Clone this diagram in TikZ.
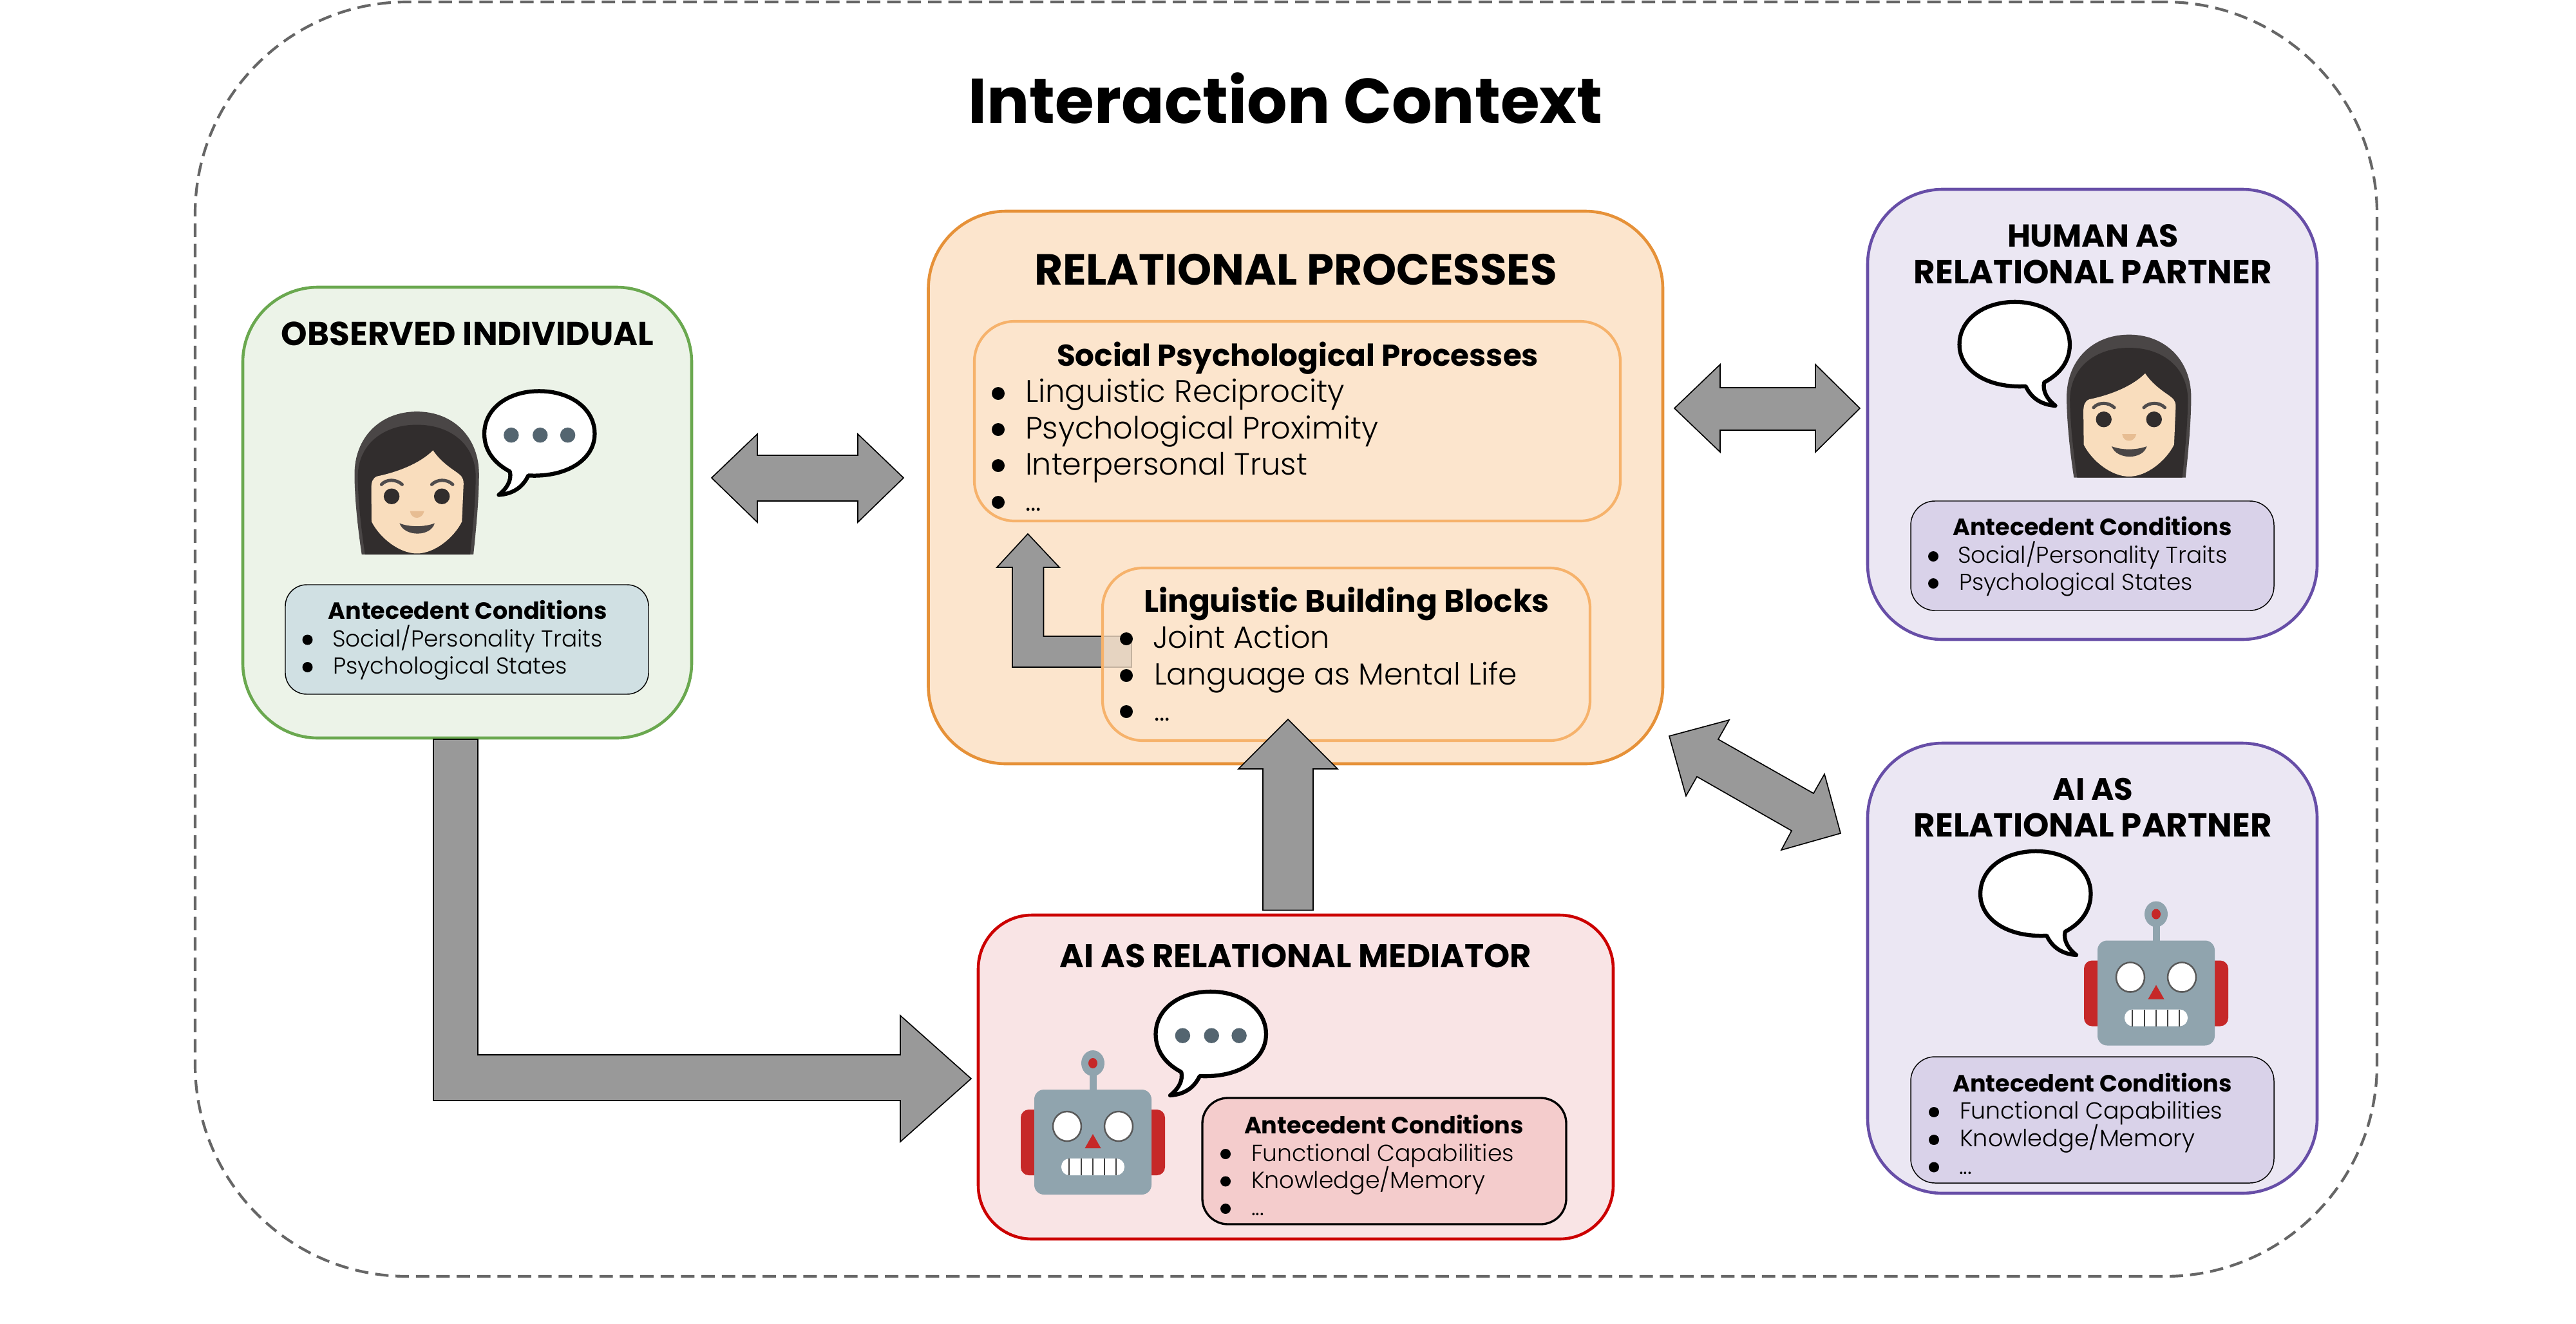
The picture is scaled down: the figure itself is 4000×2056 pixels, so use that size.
\documentclass[tikz,border=0pt]{standalone}
\usepackage{graphicx}
\usepackage{fontspec}
\setmainfont{Poppins}
\newfontfamily\lightf{Poppins Light}
\usetikzlibrary{calc}
\definecolor{arrowgray}{HTML}{999999}
\definecolor{hairc}{HTML}{312D2D}
\definecolor{skinc}{HTML}{F9DDBD}
\definecolor{robotc}{HTML}{90A4AE}
\definecolor{earc}{HTML}{C62828}
\definecolor{dotc}{HTML}{546570}
\tikzset{
  boxn/.style={rectangle,inner sep=0,outer sep=0,rounded corners=#1},
  blockarrow/.style={draw=black,fill=arrowgray,line width=.4pt,line join=miter},
  txt/.style={inner sep=0,outer sep=0,text=black},
  outerbox/.style={boxn=79pt,draw=black!60,dash pattern=on 5pt off 2.6pt,line width=1pt},
  partnerbox/.style={boxn=28pt,draw={rgb,255:red,103;green,78;blue,167},fill={rgb,255:red,235;green,231;blue,243},line width=1.1pt},
  partnerinner/.style={boxn=9pt,draw=black,fill={rgb,255:red,217;green,210;blue,233},line width=.35pt}
}
% name, x1, y1, x2, y2, style
\newcommand\bx[6]{\node[#6,anchor=north west,minimum width={(#4-#2)*0.24pt},minimum height={(#5-#3)*0.24pt}] (#1) at (#2,#3) {};}
% name, x, baseline y, width(px), anchor, font, text
\newcommand\tx[7]{\node[txt,anchor=#5] (#1) at (#2,#3) {\resizebox{\dimexpr #4pt*24/100\relax}{!}{#6#7}};}
\newcommand\bul[3]{\fill[black] (#1,#2) circle [radius=#3];}
\newcommand\bubble[4]{\begin{scope}[shift={(#1,#2)},xscale=#3,x=.1224pt,y=-.1224pt,shift={(-832,-683)}]
  \draw[black,fill=white,line width=1.5pt,line join=round]
   (832,683) .. controls (855,665) and (872,640) .. (866,612)
   .. controls (815,585) and (788,545) .. (788,497)
   .. controls (788,420) and (860,367) .. (955,367)
   .. controls (1050,367) and (1124,420) .. (1124,497)
   .. controls (1124,575) and (1040,630) .. (922,624)
   .. controls (905,660) and (875,680) .. (832,683) -- cycle;
  #4
 \end{scope}}
\newcommand\threedots{\fill[dotc] (870,501) circle [radius=23] (958,501) circle [radius=23] (1042,501) circle [radius=23];}
\newcommand\woman[2]{\begin{scope}[shift={(#1,#2)},x=.1224pt,y=-.1224pt,shift={(-583,-865)}]
  \fill[hairc!88!white] (415,865) .. controls (405,800) and (393,700) .. (393,620)
    .. controls (393,510) and (470,430) .. (583,430)
    .. controls (695,430) and (772,510) .. (772,620)
    .. controls (772,700) and (762,800) .. (755,865) -- cycle;
  \fill[hairc] (425,865) .. controls (415,800) and (403,700) .. (403,625)
    .. controls (405,530) and (480,470) .. (583,470)
    .. controls (685,470) and (760,530) .. (762,625)
    .. controls (762,700) and (752,800) .. (745,865) -- cycle;
  \fill[skinc] (632,548) .. controls (590,590) and (520,615) .. (462,627)
    .. controls (448,632) and (444,645) .. (444,665) -- (445,765)
    .. controls (470,815) and (530,862) .. (583,862)
    .. controls (636,862) and (695,815) .. (720,765) -- (725,650)
    .. controls (725,630) and (718,625) .. (700,612)
    .. controls (675,595) and (650,575) .. (632,548) -- cycle;
  \fill[hairc] (506,688) circle [radius=24] (659,688) circle [radius=24];
  \draw[hairc!85!white,line width=1.2pt,line cap=round] (475,652) .. controls (490,635) and (520,635) .. (538,652);
  \draw[hairc!85!white,line width=1.2pt,line cap=round] (628,652) .. controls (645,635) and (675,635) .. (692,652);
  \fill[black!10!orange!40!brown!50!white] (562,733) .. controls (565,760) and (600,760) .. (605,733) -- cycle;
  \fill[hairc!88!white] (530,770) .. controls (560,782) and (605,782) .. (637,770)
    .. controls (625,812) and (545,812) .. (530,770) -- cycle;
 \end{scope}}
\newcommand\robot[2]{\begin{scope}[shift={(#1,#2)}]
  \fill[earc,rounded corners=3pt] (-112,31) rectangle (112,133);
  \fill[robotc] (-5.5,-30) rectangle (5.5,2);
  \fill[robotc] (0,-41) circle [x radius=18,y radius=20];
  \fill[earc] (0,-41) circle [x radius=7,y radius=8];
  \fill[robotc,rounded corners=3.6pt] (-91,0) rectangle (91,163);
  \draw[black!65,fill=white,line width=.6pt] (-40,57) circle [x radius=22,y radius=23] (40,57) circle [x radius=22,y radius=23];
  \fill[earc] (0,69) -- (12.5,91) -- (-12.5,91) -- cycle;
  \fill[white,rounded corners=3pt] (-49,107) rectangle (49,133);
  \draw[black!75,line width=.5pt] (-37,107) -- (-37,133) (-18,107) -- (-18,133) (0,107) -- (0,133) (18,107) -- (18,133) (36,107) -- (36,133);
 \end{scope}}
\begin{document}
\begin{tikzpicture}[x=0.24pt,y=-0.24pt]
\useasboundingbox (0,0) rectangle (4000,2056);
\fill[white] (0,0) rectangle (4000,2056);
% outer context
\bx{context}{303}{3}{3691}{1982}{outerbox}
\tx{contextTitle}{1996}{191}{985}{base}{\bfseries}{Interaction Context}

% observed individual
\bx{observed}{377}{446}{1074}{1146}{boxn=28pt,draw={rgb,255:red,106;green,168;blue,79},fill={rgb,255:red,236;green,243;blue,232},line width=1.1pt}
\tx{observedTitle}{726}{536}{578}{base}{\bfseries}{OBSERVED INDIVIDUAL}
\woman{647.4}{861}
\bubble{774.5}{768.5}{1}{\threedots}
\bx{observedAnte}{443}{908}{1007}{1078}{boxn=8pt,draw=black,fill={rgb,255:red,208;green,224;blue,227},line width=.35pt}
\tx{observedAnteTitle}{726}{961}{433}{base}{\bfseries}{Antecedent Conditions}
\bul{477.5}{993.5}{8}\bul{477.5}{1036}{8}
\tx{observedA}{516}{1004}{420}{base west}{\lightf}{Social/Personality Traits}
\tx{observedB}{517}{1046.5}{364}{base west}{\lightf}{Psychological States}

% relational processes
\bx{relational}{1441.5}{328}{2582}{1186}{boxn=29pt,draw={rgb,255:red,230;green,145;blue,56},fill={rgb,255:red,252;green,229;blue,205},line width=1.1pt}
\tx{relationalTitle}{2012}{442.5}{812}{base}{\bfseries}{RELATIONAL PROCESSES}
\bx{social}{1513}{499}{2516}{809}{boxn=15pt,draw={rgb,255:red,246;green,178;blue,107},line width=1pt}
\tx{socialTitle}{2015}{568}{748}{base}{\bfseries}{Social Psychological Processes}
\bul{1550}{611}{10}\bul{1550}{667}{10}\bul{1550}{723}{10}\bul{1550}{780}{10}
\tx{socialA}{1592}{624.5}{496}{base west}{\lightf}{Linguistic Reciprocity}
\tx{socialB}{1592}{681}{548}{base west}{\lightf}{Psychological Proximity}
\tx{socialC}{1592}{737}{438}{base west}{\lightf}{Interpersonal Trust}
\tx{socialD}{1592}{793}{25}{base west}{\lightf}{...}

% L arrow from linguistic blocks to social processes (under the box)
\draw[blockarrow] (1757,1036) -- (1572,1036) -- (1572,881) -- (1548,881) -- (1596,829) -- (1645,881) -- (1620.5,881) -- (1620.5,988) -- (1757,988) -- cycle;
\bx{linguistic}{1712}{882}{2469}{1150}{boxn=15pt,draw={rgb,255:red,246;green,178;blue,107},fill={rgb,255:red,252;green,229;blue,205},fill opacity=.78,line width=1pt}
\tx{linguisticTitle}{2091}{950}{630}{base}{\bfseries}{Linguistic Building Blocks}
\bul{1749}{992}{10}\bul{1749}{1049}{10}\bul{1749}{1105}{10}
\tx{linguisticA}{1790}{1006}{275}{base west}{\lightf}{Joint Action}
\tx{linguisticB}{1792}{1063}{564}{base west}{\lightf}{Language as Mental Life}
\tx{linguisticC}{1792}{1119}{25}{base west}{\lightf}{...}

% mediator
\bx{mediator}{1519}{1421}{2505}{1924}{boxn=20pt,draw={rgb,255:red,204;green,0;blue,0},fill={rgb,255:red,249;green,228;blue,229},line width=1.1pt}
\tx{mediatorTitle}{2012}{1502}{732}{base}{\bfseries}{AI AS RELATIONAL MEDIATOR}
\robot{1697}{1692}
\bubble{1817}{1701}{1}{\threedots}
\bx{mediatorAnte}{1867}{1705}{2432}{1901}{boxn=9.5pt,draw=black,fill={rgb,255:red,244;green,204;blue,204},line width=.8pt}
\tx{mediatorAnteTitle}{2149}{1760}{434}{base}{\bfseries}{Antecedent Conditions}
\bul{1903}{1792}{8}\bul{1903}{1834.5}{8}\bul{1903}{1877}{8}
\tx{mediatorA}{1943}{1803}{408}{base west}{\lightf}{Functional Capabilities}
\tx{mediatorB}{1943}{1845}{363}{base west}{\lightf}{Knowledge/Memory}
\tx{mediatorC}{1943}{1887}{20}{base west}{\lightf}{...}

% human partner
\bx{human}{2900}{294}{3598}{993}{partnerbox}
\tx{humanTitleA}{3250}{383.5}{266}{base}{\bfseries}{HUMAN AS}
\tx{humanTitleB}{3250}{440.5}{556}{base}{\bfseries}{RELATIONAL PARTNER}
\woman{3306}{741.5}
\bubble{3191.5}{630}{-1}{}
\bx{humanAnte}{2967}{778}{3531}{948}{partnerinner}
\tx{humanAnteTitle}{3249}{831}{434}{base}{\bfseries}{Antecedent Conditions}
\bul{3002}{864}{8}\bul{3002}{906}{8}
\tx{humanA}{3040}{874}{419}{base west}{\lightf}{Social/Personality Traits}
\tx{humanB}{3042}{916}{363}{base west}{\lightf}{Psychological States}

% AI partner
\bx{aipartner}{2900}{1154}{3598}{1853}{partnerbox}
\tx{aiTitleA}{3250}{1242.5}{125}{base}{\bfseries}{AI AS}
\tx{aiTitleB}{3250}{1299.5}{556}{base}{\bfseries}{RELATIONAL PARTNER}
\robot{3348}{1460.5}
\bubble{3224}{1483}{-1}{}
\bx{aiAnte}{2967}{1641}{3531}{1837}{partnerinner}
\tx{aiAnteTitle}{3249}{1695.6}{434}{base}{\bfseries}{Antecedent Conditions}
\bul{3003}{1727}{8}\bul{3003}{1770}{8}\bul{3003}{1812.5}{8}
\tx{aiA}{3043}{1737}{408}{base west}{\lightf}{Functional Capabilities}
\tx{aiB}{3043}{1780}{365}{base west}{\lightf}{Knowledge/Memory}
\tx{aiC}{3042}{1823}{20}{base west}{\lightf}{...}

% block arrows
\draw[blockarrow] (1105,742) -- (1176,674) -- (1176,707) -- (1332,707) -- (1332,674) -- (1403,742) -- (1332,811) -- (1332,778) -- (1176,778) -- (1176,811) -- cycle;
\draw[blockarrow] (2600,634) -- (2671,566) -- (2671,602) -- (2819,602) -- (2819,566) -- (2888,634) -- (2819,702) -- (2819,668) -- (2671,668) -- (2671,702) -- cycle;
\draw[blockarrow] (2592,1143) -- (2685,1118) -- (2668,1148) -- (2816,1232) -- (2833,1202) -- (2858,1294) -- (2766,1320) -- (2782,1290) -- (2635,1206) -- (2618,1236) -- cycle;
\draw[blockarrow] (1961,1413.5) -- (1961,1194) -- (1923,1194) -- (2000,1117) -- (2077,1194) -- (2039,1194) -- (2039,1413.5) -- cycle;
\draw[blockarrow] (673,1148) -- (742,1148) -- (742,1638) -- (1398,1638) -- (1398,1577) -- (1508,1675) -- (1398,1773) -- (1398,1709) -- (673,1709) -- cycle;
\end{tikzpicture}
\end{document}
